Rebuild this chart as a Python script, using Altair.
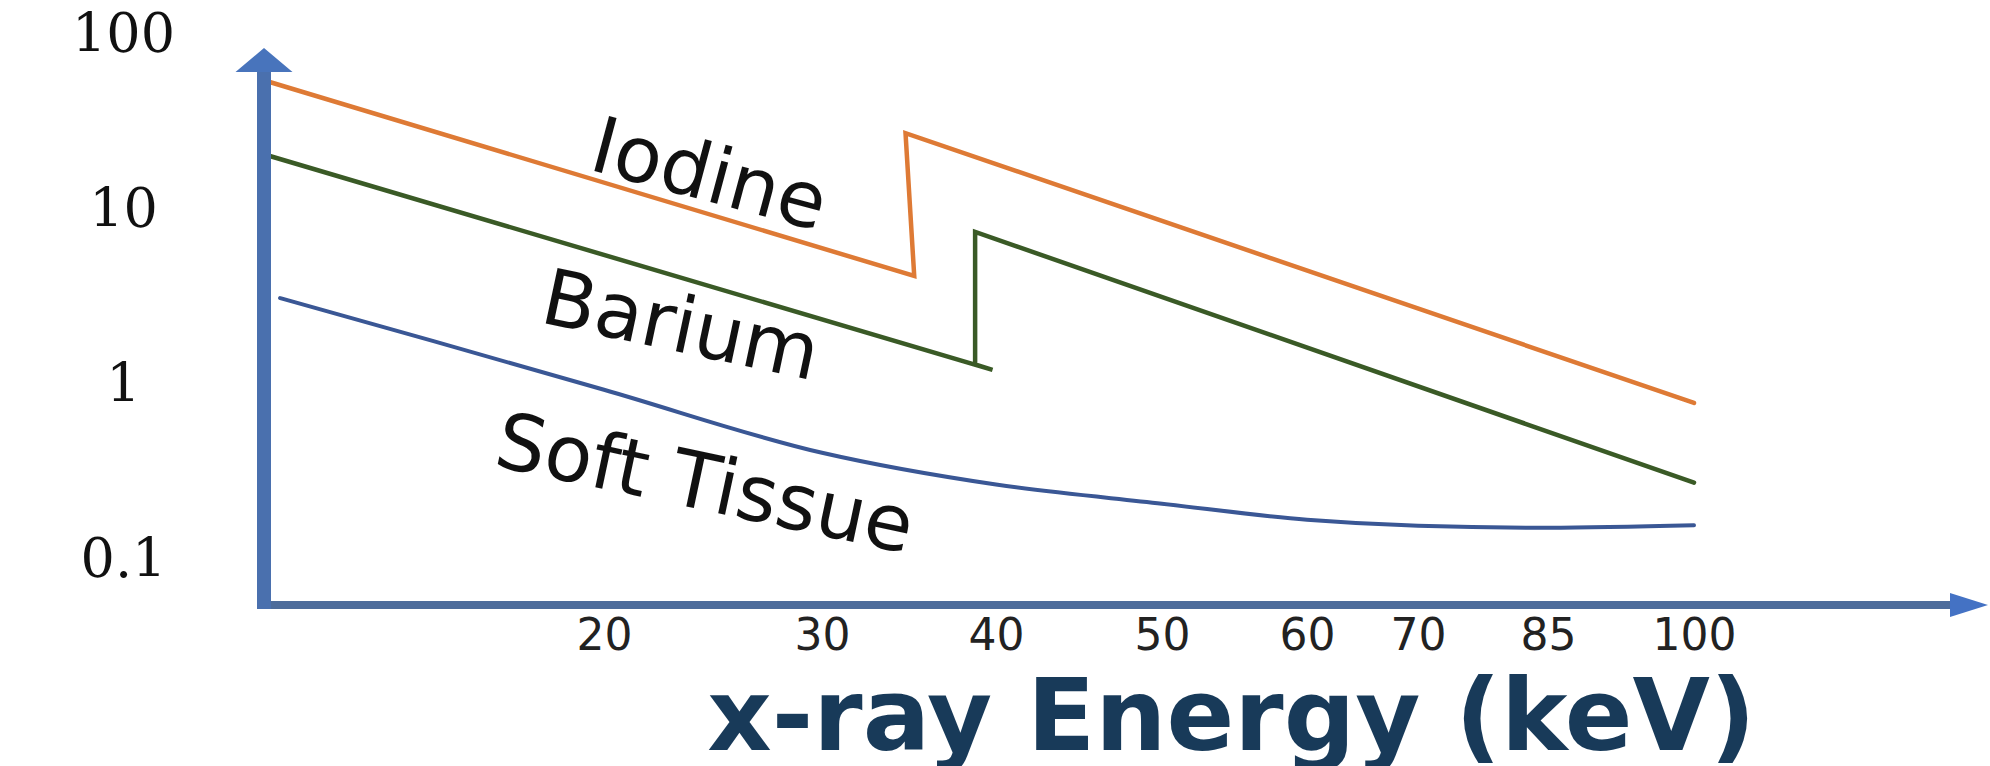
import altair as alt
import pandas as pd

# ---------------- data ----------------
# x axis: tick energies (keV); the axis in the drawing is schematic (not linear),
# so a piecewise scale maps energies to their place along the axis
tick_kev = [20, 30, 40, 50, 60, 70, 85, 100]
scale_kev = [10, 20, 30, 40, 50, 60, 70, 85, 100, 120]
scale_px = [0, 341, 559, 733, 899, 1044, 1155, 1285, 1431, 1700]

# y axis (log) tick values
y_ticks = [0.1, 1, 10, 100]

# Iodine: straight fall, K-edge jump, straight fall
iodine_kev = [10, 35.3, 34.8, 100]
iodine_mu = [55.3, 4.2, 27.5, 0.79]

# Barium: straight fall (with small overshoot past the edge), K-edge jump, straight fall
barium_kev = [10, 39.8, 38.8, 38.8, 100]
barium_mu = [20.9, 1.22, 1.31, 7.5, 0.277]

# Soft tissue: smooth curve
tissue_kev = [10.5, 15, 20, 30, 40, 50, 60, 70, 85, 100]
tissue_mu = [3.14, 1.78, 0.94, 0.41, 0.27, 0.21, 0.17, 0.157, 0.153, 0.158]

# curve labels
label_text = ["Iodine", "Barium", "Soft Tissue"]
label_kev = [24.8, 23.5, 24.6]
label_mu = [15.3, 2.1, 0.262]
label_angle = [15, 12, 12]

materials = ["Iodine", "Barium", "Soft Tissue"]
colors = ["#DE7A35", "#3A5A26", "#3A5795"]

# ---------------- tables ----------------
rows = []
for name, ks, ms in [("Iodine", iodine_kev, iodine_mu), ("Barium", barium_kev, barium_mu)]:
    for i, (k, m) in enumerate(zip(ks, ms)):
        rows.append({"material": name, "kev": k, "mu": m, "seq": i})
edges = pd.DataFrame(rows)
tissue = pd.DataFrame({"material": "Soft Tissue", "kev": tissue_kev, "mu": tissue_mu,
                       "seq": list(range(len(tissue_kev)))})
labels = pd.DataFrame({"label": label_text, "kev": label_kev, "mu": label_mu, "angle": label_angle})

xscale = alt.Scale(domain=scale_kev, range=scale_px, zero=False, nice=False)
yscale = alt.Scale(type="log", domain=[0.0532, 100], nice=False)

xaxis = alt.Axis(values=tick_kev, domain=False, ticks=False, tickSize=0, grid=False,
                 labelFont="DejaVu Sans", labelFontSize=44, labelColor="#222222",
                 labelPadding=6, labelFlush=False, labelOverlap=False, format="d",
                 title="x-ray Energy (keV)", titleFont="DejaVu Sans", titleFontSize=100,
                 titleFontWeight="bold", titleColor="#183A59", titleX=968, titleY=141,
                 titleBaseline="alphabetic", titleAlign="center")
yaxis = alt.Axis(values=y_ticks, domain=False, ticks=False, tickSize=0, grid=False,
                 labelFont="DejaVu Serif", labelFontSize=54, labelColor="#111111",
                 labelAlign="center", labelBaseline="middle", labelPadding=140,
                 labelFlush=False, labelOverlap=False, format="~g", title=None)

color = alt.Color("material:N", scale=alt.Scale(domain=materials, range=colors), legend=None)

edge_lines = alt.Chart(edges).mark_line(strokeWidth=4.5, strokeJoin="miter", strokeCap="round").encode(
    x=alt.X("kev:Q", scale=xscale, axis=xaxis),
    y=alt.Y("mu:Q", scale=yscale, axis=yaxis),
    color=color,
    order=alt.Order("seq:Q"),
    detail="material:N",
)

tissue_line = alt.Chart(tissue).mark_line(strokeWidth=4, interpolate="monotone", strokeCap="round").encode(
    x=alt.X("kev:Q", scale=xscale, axis=xaxis),
    y=alt.Y("mu:Q", scale=yscale, axis=yaxis),
    color=color,
    order=alt.Order("seq:Q"),
)

texts = alt.Chart(labels).mark_text(font="DejaVu Sans", fontSize=78, color="#111111",
                                    align="center", baseline="middle").encode(
    x=alt.X("kev:Q", scale=xscale, axis=xaxis),
    y=alt.Y("mu:Q", scale=yscale, axis=yaxis),
    text="label:N",
    angle=alt.Angle("angle:Q", scale=None),
)

one = alt.Data(values=[{}])
y_axis_line = alt.Chart(one).mark_rule(color="#4A70AE", strokeWidth=14).encode(
    x=alt.value(1), y=alt.value(574), y2=alt.value(30))
x_axis_line = alt.Chart(one).mark_rule(color="#4D6C9B", strokeWidth=8).encode(
    x=alt.value(-6), x2=alt.value(1695), y=alt.value(570))
y_arrow = alt.Chart(one).mark_point(filled=True, shape="M-1,0.42L0,-0.42L1,0.42Z", size=3249,
                                    color="#4874BC", opacity=1, strokeWidth=0).encode(
    x=alt.value(1), y=alt.value(25))
x_arrow = alt.Chart(one).mark_point(filled=True, shape="M-1,-0.63L1,0L-1,0.63Z", size=1444,
                                    color="#4472C4", opacity=1, strokeWidth=0).encode(
    x=alt.value(1706), y=alt.value(570))

chart = alt.layer(
    edge_lines, tissue_line, texts, x_axis_line, y_axis_line, y_arrow, x_arrow
).properties(
    width=1700, height=573,
    autosize=alt.AutoSizeParams(type="none"),
    padding={"left": 263, "top": 35, "right": 27, "bottom": 158},
    background="white",
).configure_view(stroke=None)

chart.save("out.html", embed_options={"renderer": "svg", "actions": False})
